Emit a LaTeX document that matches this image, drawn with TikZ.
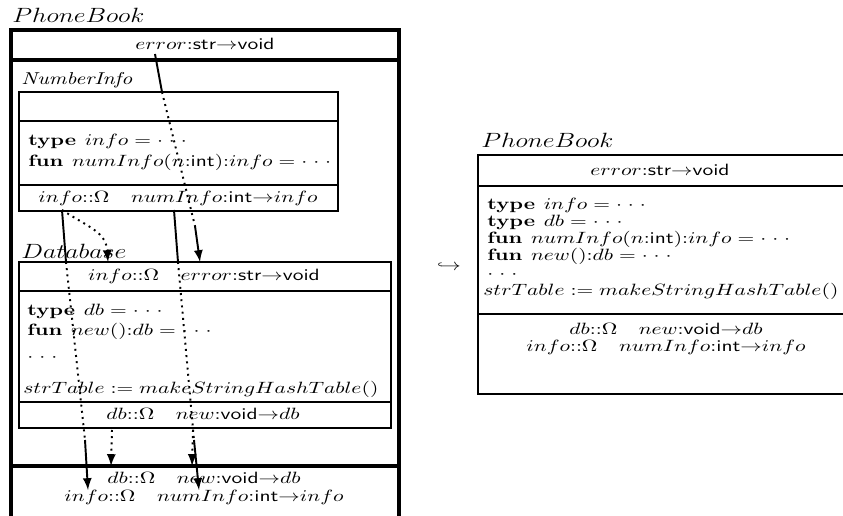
\documentclass[tikz,border=0pt]{standalone}
\usepackage{graphicx}
\newcommand{\kw}[1]{\mathbf{#1}\hspace{0.4em}}
\newcommand{\ty}[1]{\textsf{#1}}
\newcommand{\ofty}{{\mathbf{:}}}
\newcommand{\ofkind}{{\mathbf{::}}}
\newcommand{\eqdef}{\mathrel{\mathbf{=}}}
\newcommand{\fnto}{{\rightarrow}}
\newcommand{\etc}{{\cdot}\;{\cdot}\;{\cdot}}
\newcommand{\code}[1]{\scalebox{1}[0.76]{$#1$}}
\newcommand{\modname}[1]{\scalebox{1}[0.8]{\fontsize{13}{15}\selectfont$#1$}}
\begin{document}
\begin{tikzpicture}[x=0.465pt, y=-0.465pt,
    outerbox/.style={line width=1.4pt},
    box/.style={line width=1pt},
    codeline/.style={inner sep=0pt, anchor=west, text height=5.3pt, text depth=1.5pt},
    ifaceline/.style={inner sep=0pt, text height=5.3pt, text depth=1.5pt},
    lbl/.style={inner sep=0pt, anchor=base west},
    link/.style={line width=0.9pt},
    hop/.style={link, dotted},
  ]
  \useasboundingbox (0,0) rectangle (843,516);

  % PhoneBook before
  \node[lbl] (pbL) at (12,23) {\modname{PhoneBook}};
  \draw[outerbox] (11,540) -- (11,30) -- (399,30) -- (399,540);
  \draw[outerbox] (11,60) -- (399,60);
  \draw[outerbox] (11,466) -- (399,466);
  \node[ifaceline] (pbErr) at (205,45) {\code{error\ofty\ty{str}\fnto\ty{void}}};

  % NumberInfo
  \node[lbl] (niL) at (21,85) {\scalebox{1}[0.8]{\textit{NumberInfo}}};
  \draw[box] (19,92) rectangle (338,211);
  \draw[box] (19,121) -- (338,121);
  \draw[box] (19,185) -- (338,185);
  \node[codeline] (niT1) at (28,141) {\code{\kw{type} info \eqdef \etc}};
  \node[codeline] (niT2) at (28,162) {\code{\kw{fun} numInfo(n\ofty\ty{int})\ofty info \eqdef \etc}};
  \node[ifaceline] (niI) at (178,198) {\code{info\ofkind\Omega\quad numInfo\ofty\ty{int}\fnto info}};

  % Database
  \node[lbl] (dbL) at (21,259) {\modname{Database}};
  \draw[box] (19,262) rectangle (391,428);
  \draw[box] (19,291) -- (391,291);
  \draw[box] (19,402) -- (391,402);
  \node[ifaceline] (dbH) at (204,276) {\code{info\ofkind\Omega\quad error\ofty\ty{str}\fnto\ty{void}}};
  \node[codeline] (dbT1) at (27,311) {\code{\kw{type} db \eqdef \etc}};
  \node[codeline] (dbT2) at (27,331) {\code{\kw{fun} new()\ofty db \eqdef \etc}};
  \node[codeline] (dbT3) at (27,357) {\code{\etc}};
  \node[codeline] (dbT4) at (23,389) {\code{strTable \mathrel{\mathbf{:=}} makeStringHashTable()}};
  \node[ifaceline] (dbI) at (203,415) {\code{db\ofkind\Omega\quad new\ofty\ty{void}\fnto db}};

  % PhoneBook interface
  \node[ifaceline] (pbI1) at (204,479) {\code{db\ofkind\Omega\quad new\ofty\ty{void}\fnto db}};
  \node[ifaceline] (pbI2) at (204,497) {\code{info\ofkind\Omega\quad numInfo\ofty\ty{int}\fnto info}};

  % links
  \coordinate (errOut) at (155,54);
  \coordinate (errIn) at (162,92);
  \coordinate (errExit) at (195,226);
  \coordinate (errDb) at (200,262);
  \draw[link] (errOut) -- (errIn);
  \draw[hop] (errIn) -- (errExit);
  \draw[link, -latex] (errExit) -- (errDb);

  \coordinate (infoOut) at (62,210);
  \coordinate (infoDb) at (108,262);
  \coordinate (infoA) at (66,262);
  \coordinate (infoB) at (85,440);
  \coordinate (infoBot) at (88,490);
  \draw[hop, -latex] (infoOut) .. controls (90,228) and (106,232) .. (infoDb);
  \draw[link] (infoOut) -- (infoA);
  \draw[hop] (infoA) -- (infoB);
  \draw[link, -latex] (infoB) -- (infoBot);

  \coordinate (numOut) at (174,210);
  \coordinate (numA) at (178,262);
  \coordinate (numB) at (194,440);
  \coordinate (numBot) at (199,490);
  \draw[link] (numOut) -- (numA);
  \draw[hop] (numA) -- (numB);
  \draw[link, -latex] (numB) -- (numBot);

  \coordinate (dbOut) at (112,430);
  \coordinate (dbBot) at (111,466);
  \coordinate (newOut) at (193,430);
  \coordinate (newBot) at (192,466);
  \draw[hop, -latex] (dbOut) -- (dbBot);
  \draw[hop, -latex] (newOut) -- (newBot);

  \node (into) at (449,267) {\code{\hookrightarrow}};

  % PhoneBook after
  \node[lbl] (pbRL) at (481,148) {\modname{PhoneBook}};
  \draw[box] (846,155) -- (478,155) -- (478,394) -- (846,394);
  \draw[box] (478,186) -- (846,186);
  \draw[box] (478,314) -- (846,314);
  \node[ifaceline] (rErr) at (660,171) {\code{error\ofty\ty{str}\fnto\ty{void}}};
  \node[codeline] (rT1) at (487,205) {\code{\kw{type} info \eqdef \etc}};
  \node[codeline] (rT2) at (487,222) {\code{\kw{type} db \eqdef \etc}};
  \node[codeline] (rT3) at (487,239) {\code{\kw{fun} numInfo(n\ofty\ty{int})\ofty info \eqdef \etc}};
  \node[codeline] (rT4) at (487,256.5) {\code{\kw{fun} new()\ofty db \eqdef \etc}};
  \node[codeline] (rT5) at (487,274) {\code{\etc}};
  \node[codeline] (rT6) at (483,291) {\code{strTable \mathrel{\mathbf{:=}} makeStringHashTable()}};
  \node[ifaceline] (rI1) at (666,330) {\code{db\ofkind\Omega\quad new\ofty\ty{void}\fnto db}};
  \node[ifaceline] (rI2) at (666,347) {\code{info\ofkind\Omega\quad numInfo\ofty\ty{int}\fnto info}};
\end{tikzpicture}
\end{document}
